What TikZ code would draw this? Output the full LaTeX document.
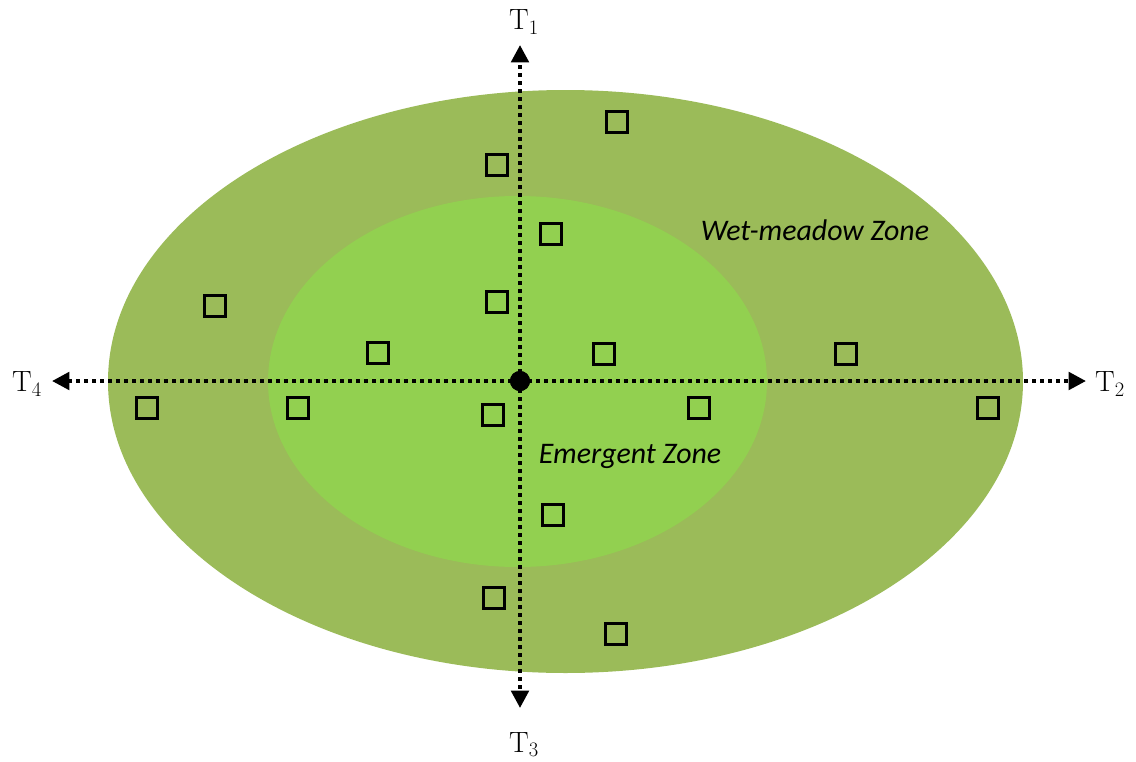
\documentclass[tikz,border=0pt]{standalone}
\usepackage{amsmath}
\usepackage{fontspec}
\newfontfamily\zonefont{Carlito}
\usepackage{tikz}
\usetikzlibrary{arrows.meta}
\usetikzlibrary{positioning}

\definecolor{wetgreen}{HTML}{9BBB59}
\definecolor{emergreen}{HTML}{92D050}

\tikzset{
    transect/.style={line width=3pt, dash pattern=on 3pt off 3pt,
        -{Triangle[length=13pt,width=13pt]}},
    plot/.style={draw, line width=1.8pt, minimum size=15.5pt, inner sep=0pt},
    tlabel/.style={font=\fontsize{22}{26}\selectfont},
    zonelabel/.style={font=\zonefont\itshape\fontsize{22.4}{26}\selectfont}
}

\begin{document}
\begin{tikzpicture}[x=0.75pt,y=-0.75pt]
        \useasboundingbox (0,0) rectangle (1136,761);
        % zones
        \fill[wetgreen] (565.5,381.5) ellipse (457.5 and 291.5);
        \fill[emergreen] (517.5,381.5) ellipse (249.5 and 185.5);
        \node[zonelabel] (wet) at (815,230) {Wet-meadow Zone};
        \node[zonelabel] (emer) at (630,456) {Emergent Zone};
        % transects
        \node[circle, fill=black, minimum size=15pt, inner sep=0pt] (c) at (520,381) {};
        \coordinate (e1) at (520,45);
        \coordinate (e2) at (1086,381);
        \coordinate (e3) at (520,708);
        \coordinate (e4) at (52,381);
        \draw[transect] (c.center) -- (e1);
        \draw[transect] (c.center) -- (e2);
        \draw[transect] (c.center) -- (e3);
        \draw[transect] (c.center) -- (e4);
        \node[circle, fill=black, minimum size=15pt, inner sep=0pt] at (c) {};
        \node[tlabel] (T1) at (524,22) {T\textsubscript{1}};
        \node[tlabel] (T2) at (1110,384) {T\textsubscript{2}};
        \node[tlabel] (T3) at (524,745) {T\textsubscript{3}};
        \node[tlabel] (T4) at (27,384) {T\textsubscript{4}};
        % sampling plots
        \foreach \x/\y [count=\i] in {617/122, 497/165, 551/234, 215/306,
                497/302, 378/353, 604/354, 846/354, 147/408, 298/408,
                493/415, 699/408, 988/408, 553/515, 494/598, 616/634} {
            \node[plot] (q\i) at (\x,\y) {};
        }
    \end{tikzpicture}
\end{document}
